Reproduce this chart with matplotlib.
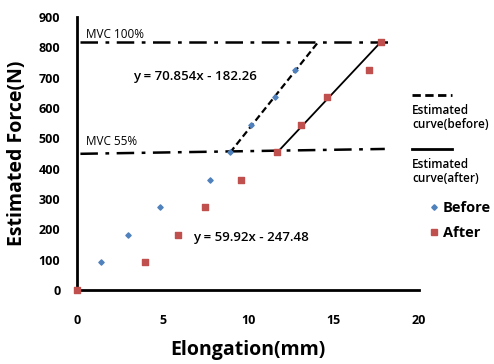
"""Estimated force vs elongation, before/after, with MVC levels."""

import matplotlib
matplotlib.use("Agg")
import matplotlib.pyplot as plt
from matplotlib.lines import Line2D

# data
before_x = [0.0, 1.4, 3.0, 4.85, 7.8, 8.95, 10.2, 11.6, 12.75]
before_y = [0.0, 90.7, 181.3, 272.0, 362.7, 453.3, 544.0, 634.7, 725.3]
after_x = [0.0, 4.0, 5.9, 7.5, 9.6, 11.7, 13.1, 14.6, 17.1, 17.75]
after_y = [0.0, 90.7, 181.3, 272.0, 362.7, 453.3, 544.0, 634.7, 725.3, 816.0]

fit_before_x = [8.95, 14.1]
fit_before_y = [453.0, 817.0]
fit_after_x = [11.7, 17.76]
fit_after_y = [453.0, 817.0]

mvc100_x = [0.2, 18.5]
mvc100_y = [816.0, 816.0]
mvc55_x = [0.2, 18.0]
mvc55_y = [449.0, 465.0]

x_ticks = [0, 5, 10, 15, 20]
y_ticks = list(range(0, 1000, 100))

FONT = ["Open Sans", "DejaVu Sans"]
plt.rcParams["font.family"] = FONT

fig = plt.figure(figsize=(4.94, 3.64), dpi=100)
ax = fig.add_axes([77 / 494, 74 / 364, 342 / 494, 273 / 364])

ax.plot(mvc100_x, mvc100_y, color="black", lw=1.8, ls=(0, (7, 3, 1.5, 3)))
ax.plot(mvc55_x, mvc55_y, color="black", lw=1.8, ls=(0, (7, 3, 1.5, 3)))
ax.plot(fit_before_x, fit_before_y, color="black", lw=1.6, ls=(0, (3, 1.6)))
ax.plot(fit_after_x, fit_after_y, color="black", lw=1.3)

ax.scatter(before_x, before_y, marker="D", s=7, color="#4F81BD", zorder=3, clip_on=False)
ax.scatter(after_x, after_y, marker="s", s=15, color="#C0504D", zorder=3, clip_on=False)

ax.text(0.5, 842, "MVC 100%", fontsize=8.5, ha="left", va="center")
ax.text(0.5, 488, "MVC 55%", fontsize=8.5, ha="left", va="center")
ax.text(3.3, 705, "y = 70.854x - 182.26", fontsize=9.5, fontweight="semibold",
        ha="left", va="center")
ax.text(6.8, 172, "y = 59.92x - 247.48", fontsize=9.5, fontweight="semibold",
        ha="left", va="center")

ax.set_xlim(0, 20)
ax.set_ylim(0, 900)
ax.set_xticks(x_ticks)
ax.set_yticks(y_ticks)
ax.tick_params(length=0, labelsize=9, pad=12)
ax.tick_params(axis="x", pad=17)
for lab in ax.get_xticklabels() + ax.get_yticklabels():
    lab.set_fontweight("bold")
for side in ["top", "right"]:
    ax.spines[side].set_visible(False)
for side in ["left", "bottom"]:
    ax.spines[side].set_linewidth(2)

ax.set_xlabel("Elongation(mm)", fontsize=14, fontweight="bold", labelpad=10)
ax.set_ylabel("Estimated Force(N)", fontsize=14, fontweight="bold", labelpad=8)

# hand-placed legend on the right
def fy(py):
    return 1 - py / 364


def fx(px):
    return px / 494


fig.add_artist(Line2D([fx(412), fx(452)], [fy(95), fy(95)], color="black",
                      lw=2, ls=(0, (3, 1.6))))
fig.text(fx(412), fy(117), "Estimated\ncurve(before)", fontsize=8.5,
         fontweight="semibold", ha="left", va="center", linespacing=1.1)
fig.add_artist(Line2D([fx(412), fx(452)], [fy(149), fy(149)], color="black", lw=2))
fig.text(fx(412), fy(171), "Estimated\ncurve(after)", fontsize=8.5,
         fontweight="semibold", ha="left", va="center", linespacing=1.1)
fig.add_artist(Line2D([fx(434)], [fy(207)], marker="D", markersize=2.8,
                      color="#4F81BD", lw=0))
fig.text(fx(443), fy(208), "Before", fontsize=10.5, fontweight="bold",
         ha="left", va="center")
fig.add_artist(Line2D([fx(434)], [fy(232)], marker="s", markersize=4,
                      color="#C0504D", lw=0))
fig.text(fx(443), fy(233), "After", fontsize=10.5, fontweight="bold",
         ha="left", va="center")

fig.savefig("out.png", dpi=100)
